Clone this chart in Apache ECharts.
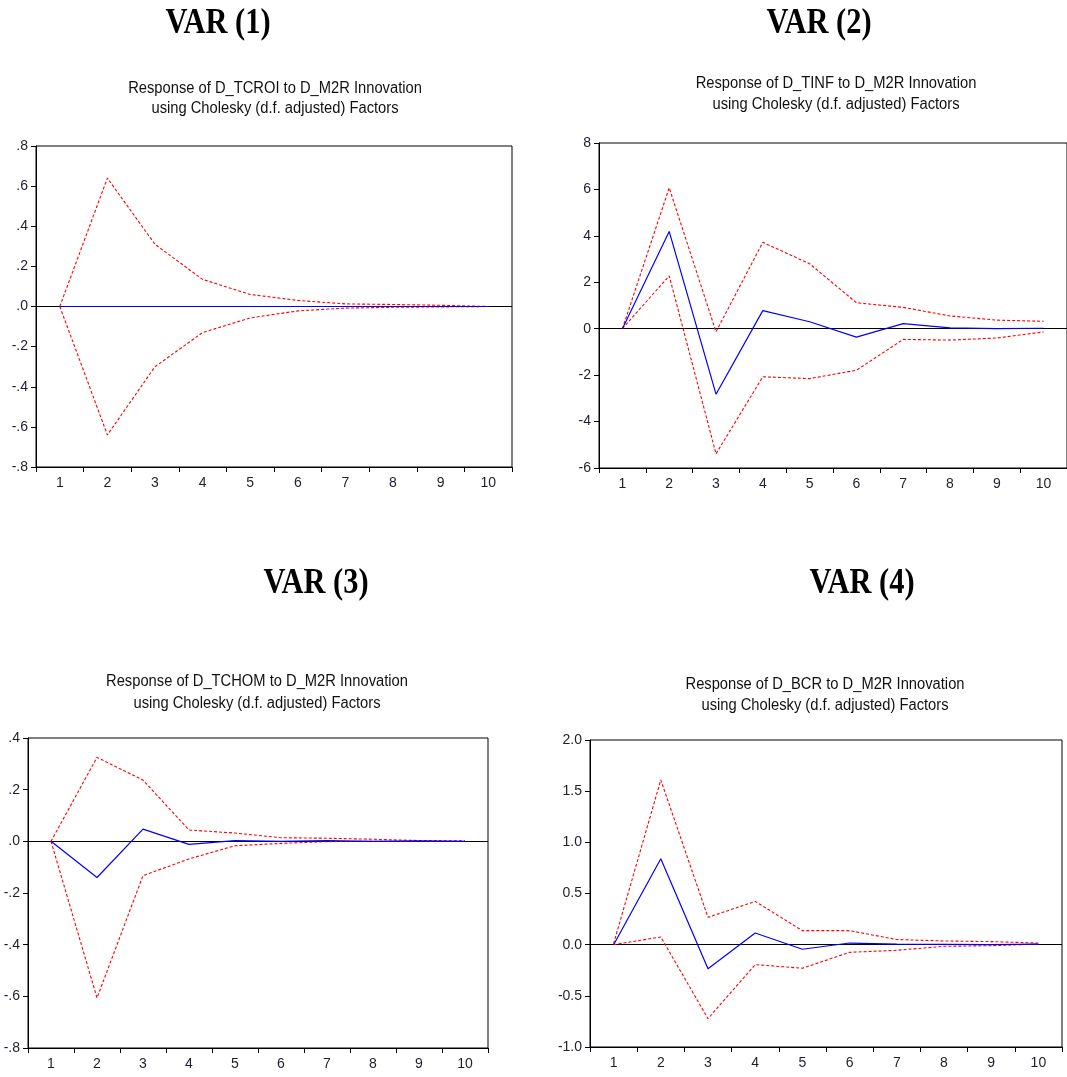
<!DOCTYPE html>
<html>
<head>
<meta charset="utf-8">
<script src="https://cdn.jsdelivr.net/npm/echarts@6/dist/echarts.min.js"></script>
<style>
  html, body { margin: 0; padding: 0; background: #ffffff; }
  #chart { width: 1067px; height: 1077px; }
</style>
</head>
<body>
<div id="chart"></div>
<script>
// Impulse responses to a D_M2R innovation, 10 periods, with +/- 2 S.E. bands
const periods = ['1', '2', '3', '4', '5', '6', '7', '8', '9', '10'];

// VAR (1): D_TCROI
const resp1  = [0, 0, 0, 0, 0, 0, 0, 0, 0, 0];
const upper1 = [0, 0.64, 0.31, 0.135, 0.06, 0.03, 0.013, 0.01, 0.006, 0.0];
const lower1 = [0, -0.64, -0.30, -0.13, -0.057, -0.022, -0.008, -0.004, -0.002, 0.0];

// VAR (2): D_TINF
const resp2  = [0, 4.19, -2.82, 0.78, 0.3, -0.36, 0.22, 0.04, 0.0, 0.02];
const upper2 = [0, 6.07, -0.13, 3.72, 2.8, 1.12, 0.92, 0.55, 0.37, 0.32];
const lower2 = [0, 2.28, -5.39, -2.07, -2.15, -1.79, -0.46, -0.49, -0.4, -0.14];

// VAR (3): D_TCHOM
const resp3  = [0, -0.14, 0.047, -0.012, 0.003, 0.0, 0.003, 0.0, 0.002, 0.0];
const upper3 = [0, 0.325, 0.237, 0.044, 0.032, 0.014, 0.012, 0.008, 0.003, 0.002];
const lower3 = [0, -0.606, -0.133, -0.068, -0.017, -0.008, -0.001, 0.0, 0.0, 0.0];

// VAR (4): D_BCR
const resp4  = [0, 0.84, -0.235, 0.114, -0.045, 0.016, 0.005, 0.003, 0.0, 0.005];
const upper4 = [0.01, 1.61, 0.267, 0.423, 0.137, 0.137, 0.05, 0.036, 0.03, 0.016];
const lower4 = [0, 0.075, -0.723, -0.195, -0.23, -0.075, -0.055, -0.016, -0.01, 0.006];

const panelTitles = ['VAR (1)', 'VAR (2)', 'VAR (3)', 'VAR (4)'];
const responseNames = ['D_TCROI', 'D_TINF', 'D_TCHOM', 'D_BCR'];
const subtitleLine2 = 'using Cholesky (d.f. adjusted) Factors';

// y-axis ranges per panel
const yMins = [-0.8, -6, -0.8, -1.0];
const yMaxs = [0.8, 8, 0.4, 2.0];
const yIntervals = [0.2, 2, 0.2, 0.5];

const panels = [
  { resp: resp1, upper: upper1, lower: lower1 },
  { resp: resp2, upper: upper2, lower: lower2 },
  { resp: resp3, upper: upper3, lower: lower3 },
  { resp: resp4, upper: upper4, lower: lower4 }
];

// plot frames
const grids = [
  { left: 36,  top: 146, width: 476, height: 321 },
  { left: 599, top: 143, width: 474, height: 325 },
  { left: 28,  top: 738, width: 460, height: 310 },
  { left: 590, top: 740, width: 472, height: 307 }
];

// label formatters: EViews style without leading zero for the small scales
const fmtNoZero = v => {
  const s = v.toFixed(1);
  return s.replace(/^(-?)0\./, '$1.');
};
const formatters = [fmtNoZero, v => String(Math.round(v)), fmtNoZero, v => v.toFixed(1)];

const axisText = { color: '#1e1e2e', fontSize: 14, fontFamily: 'Liberation Sans, Arial, sans-serif' };

const option = {
  animation: false,
  backgroundColor: '#ffffff',
  grid: grids.map(g => Object.assign({ show: true, borderColor: '#000', borderWidth: 1, backgroundColor: 'transparent' }, g)),
  xAxis: grids.map((g, i) => ({
    type: 'category',
    gridIndex: i,
    data: periods,
    boundaryGap: true,
    axisLine: { show: true, onZero: false, lineStyle: { color: '#000', width: 1 } },
    axisTick: { show: true, inside: false, length: 5, alignWithLabel: false, lineStyle: { color: '#000' } },
    axisLabel: Object.assign({ margin: 9, interval: 0 }, axisText),
    splitLine: { show: false }
  })),
  yAxis: grids.map((g, i) => ({
    type: 'value',
    gridIndex: i,
    min: yMins[i],
    max: yMaxs[i],
    interval: yIntervals[i],
    axisLine: { show: true, onZero: false, lineStyle: { color: '#000', width: 1 } },
    axisTick: { show: true, inside: false, length: 5, lineStyle: { color: '#000' } },
    axisLabel: Object.assign({ margin: 8, formatter: formatters[i] }, axisText),
    splitLine: { show: false }
  })),
  series: [],
  graphic: []
};

panels.forEach((p, i) => {
  // zero reference line, kept beneath the response curves
  option.series.push({
    type: 'line', xAxisIndex: i, yAxisIndex: i, data: [], z: 1, silent: true,
    markLine: {
      z: 1, silent: true, symbol: ['none', 'none'], label: { show: false },
      lineStyle: { color: '#000', type: 'solid', width: 1 },
      data: [{ yAxis: 0 }]
    }
  });
  const dashed = { color: '#ff0000', type: [3, 2], width: 1.1 };
  option.series.push({
    name: 'upper', type: 'line', xAxisIndex: i, yAxisIndex: i, data: p.upper,
    symbol: 'none', z: 2, lineStyle: dashed
  });
  option.series.push({
    name: 'lower', type: 'line', xAxisIndex: i, yAxisIndex: i, data: p.lower,
    symbol: 'none', z: 2, lineStyle: dashed
  });
  option.series.push({
    name: responseNames[i], type: 'line', xAxisIndex: i, yAxisIndex: i, data: p.resp,
    symbol: 'none', z: 3, lineStyle: { color: '#0000ff', width: 1.2 }
  });
});

// panel headings and chart titles
const headPos = [[218, 24], [819, 24], [316, 584], [862, 584]];
const subPos = [[275, 89, 109], [836, 84, 105], [257, 682, 704], [825, 685, 706]];

panelTitles.forEach((t, i) => {
  option.graphic.push({
    type: 'text', x: headPos[i][0], y: headPos[i][1], scaleX: 0.87,
    style: {
      text: t, fill: '#000', align: 'center', verticalAlign: 'middle',
      font: 'bold 35px "Liberation Serif", "Times New Roman", serif'
    }
  });
  option.graphic.push({
    type: 'text', x: subPos[i][0], y: subPos[i][1], scaleX: 0.92,
    style: {
      text: 'Response of ' + responseNames[i] + ' to D_M2R Innovation', fill: '#111',
      align: 'center', verticalAlign: 'middle',
      font: '16px "Liberation Sans", Arial, sans-serif'
    }
  });
  option.graphic.push({
    type: 'text', x: subPos[i][0], y: subPos[i][2], scaleX: 0.92,
    style: {
      text: subtitleLine2, fill: '#111',
      align: 'center', verticalAlign: 'middle',
      font: '16px "Liberation Sans", Arial, sans-serif'
    }
  });
});

const chart = echarts.init(document.getElementById('chart'), null, { renderer: 'canvas' });
chart.setOption(option);
</script>
</body>
</html>
